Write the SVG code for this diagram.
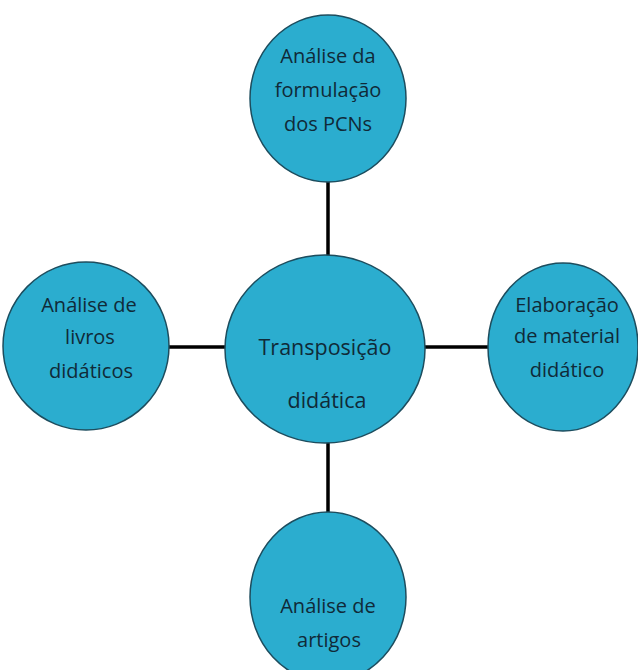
<svg xmlns="http://www.w3.org/2000/svg" width="638" height="670" viewBox="0 0 638 670">
<style>
.n{fill:#2badcf;stroke:#1d4d5e;stroke-width:1.5}
.t{font-family:"Open Sans","DejaVu Sans",sans-serif;font-size:20px;fill:#102a38;text-anchor:middle}
.c{stroke:#000;stroke-width:3.5;fill:none}
</style>
<rect width="638" height="670" fill="#fff"/>
<g id="connectors">
<line class="c" x1="328" y1="181" x2="328" y2="256"/>
<line class="c" x1="328" y1="442" x2="328" y2="513"/>
<line class="c" x1="169" y1="347" x2="226" y2="347"/>
<line class="c" x1="424" y1="347" x2="489" y2="347"/>
</g>
<g id="center">
<ellipse class="n" cx="325" cy="349" rx="100" ry="94"/>
<text class="t" x="325" y="355" style="font-size:21.5px">Transposição</text>
<text class="t" x="327" y="408" style="font-size:21.5px">didática</text>
</g>
<g id="top">
<ellipse class="n" cx="328" cy="98.5" rx="78" ry="83.5"/>
<text class="t" x="328" y="63">Análise da</text>
<text class="t" x="328" y="97">formulação</text>
<text class="t" x="328" y="131">dos PCNs</text>
</g>
<g id="left">
<ellipse class="n" cx="86" cy="346" rx="83" ry="84"/>
<text class="t" x="89" y="312">Análise de</text>
<text class="t" x="90" y="344">livros</text>
<text class="t" x="91" y="378">didáticos</text>
</g>
<g id="right">
<ellipse class="n" cx="563" cy="347" rx="75" ry="84"/>
<text class="t" x="567" y="312">Elaboração</text>
<text class="t" x="567" y="343">de material</text>
<text class="t" x="567" y="377">didático</text>
</g>
<g id="bottom">
<ellipse class="n" cx="328" cy="597" rx="78" ry="85"/>
<text class="t" x="328" y="613">Análise de</text>
<text class="t" x="329" y="647">artigos</text>
</g>
</svg>
